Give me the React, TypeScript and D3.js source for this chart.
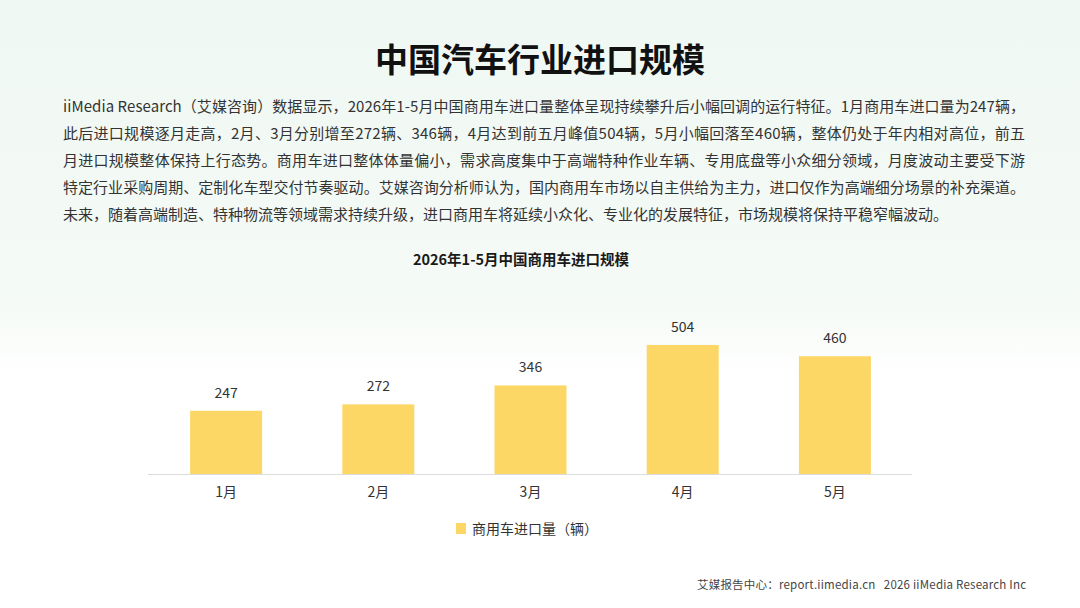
import * as d3 from "d3";
import { useEffect, useRef } from "react";

const months = ["1月", "2月", "3月", "4月", "5月"];
const imports = [247, 272, 346, 504, 460];

const title = "中国汽车行业进口规模";
const paragraph = [
    "iiMedia Research（艾媒咨询）数据显示，2026年1-5月中国商用车进口量整体呈现持续攀升后小幅回调的运行特征。1月商用车进口量为247辆，",
    "此后进口规模逐月走高，2月、3月分别增至272辆、346辆，4月达到前五月峰值504辆，5月小幅回落至460辆，整体仍处于年内相对高位，前五",
    "月进口规模整体保持上行态势。商用车进口整体体量偏小，需求高度集中于高端特种作业车辆、专用底盘等小众细分领域，月度波动主要受下游",
    "特定行业采购周期、定制化车型交付节奏驱动。艾媒咨询分析师认为，国内商用车市场以自主供给为主力，进口仅作为高端细分场景的补充渠道。",
    "未来，随着高端制造、特种物流等领域需求持续升级，进口商用车将延续小众化、专业化的发展特征，市场规模将保持平稳窄幅波动。",
];
const chartTitle = "2026年1-5月中国商用车进口规模";
const legendLabel = "商用车进口量（辆）";
const footer = "艾媒报告中心：report.iimedia.cn   2026 iiMedia Research Inc";

const FONT = "'Noto Sans CJK SC', 'Noto Sans', sans-serif";
const BAR = "#fcd765";

export default function App() {
    const ref = useRef<SVGSVGElement | null>(null);

    useEffect(() => {
        if (!ref.current) return;
        const svg = d3.select(ref.current);
        svg.selectAll("*").remove();

        const width = 1080;
        const height = 608;
        svg.attr("width", width).attr("height", height);

        // background: faint mint wash fading to white
        const defs = svg.append("defs");
        const grad = defs
            .append("linearGradient")
            .attr("id", "bg")
            .attr("x1", 0)
            .attr("y1", 0)
            .attr("x2", 0)
            .attr("y2", 1);
        grad.append("stop").attr("offset", "0%").attr("stop-color", "#eff8f3");
        grad.append("stop").attr("offset", "50%").attr("stop-color", "#f5faf6");
        grad.append("stop").attr("offset", "62%").attr("stop-color", "#ffffff");
        grad.append("stop").attr("offset", "100%").attr("stop-color", "#ffffff");
        svg.append("rect")
            .attr("width", width)
            .attr("height", height)
            .attr("fill", "url(#bg)");

        svg.append("text")
            .attr("x", width / 2)
            .attr("y", 72)
            .attr("text-anchor", "middle")
            .attr("font-family", FONT)
            .attr("font-size", 33)
            .attr("font-weight", 700)
            .attr("fill", "#111")
            .text(title);

        svg.append("g")
            .selectAll("text")
            .data(paragraph)
            .join("text")
            .attr("x", 63)
            .attr("y", (_, i) => 112 + i * 27)
            .attr("font-family", FONT)
            .attr("font-size", 15)
            .attr("fill", "#333")
            .attr("textLength", (_, i) => (i < 4 ? 962 : null))
            .attr("lengthAdjust", "spacing")
            .text((d) => d);

        svg.append("text")
            .attr("x", 521)
            .attr("y", 265)
            .attr("text-anchor", "middle")
            .attr("font-family", FONT)
            .attr("font-size", 14.5)
            .attr("font-weight", 700)
            .attr("fill", "#1a1a1a")
            .text(chartTitle);

        const x = d3
            .scaleBand<string>()
            .domain(months)
            .range([150, 911])
            .paddingInner(0.527)
            .paddingOuter(0.2635);
        const y = d3.scaleLinear().domain([0, 600]).range([474, 320.4]);

        const g = svg.append("g");
        g.selectAll("rect.bar")
            .data(imports)
            .join("rect")
            .attr("class", "bar")
            .attr("x", (_, i) => x(months[i])!)
            .attr("y", (d) => y(d))
            .attr("width", x.bandwidth())
            .attr("height", (d) => y(0) - y(d))
            .attr("fill", BAR);

        g.selectAll("text.val")
            .data(imports)
            .join("text")
            .attr("class", "val")
            .attr("x", (_, i) => x(months[i])! + x.bandwidth() / 2)
            .attr("y", (d) => y(d) - 13)
            .attr("text-anchor", "middle")
            .attr("font-family", FONT)
            .attr("font-size", 14)
            .attr("fill", "#333")
            .text((d) => d);

        const axis = g
            .append("g")
            .attr("transform", `translate(0,${y(0)})`)
            .call(d3.axisBottom(x).tickSize(0).tickPadding(13));
        axis.select(".domain").attr("stroke", "#dcdcdc").attr("d", "M148,0.5H912");
        axis.selectAll("text")
            .attr("font-family", FONT)
            .attr("font-size", 14)
            .attr("fill", "#333");

        // legend
        const legend = svg.append("g").attr("transform", "translate(456,523)");
        legend.append("rect").attr("width", 10).attr("height", 11).attr("fill", BAR);
        legend.append("text")
            .attr("x", 16)
            .attr("y", 11)
            .attr("font-family", FONT)
            .attr("font-size", 14)
            .attr("fill", "#333")
            .text(legendLabel);

        svg.append("text")
            .attr("x", 697)
            .attr("y", 589)
            .attr("font-family", FONT)
            .attr("font-size", 11.5)
            .attr("fill", "#444")
            .attr("textLength", 329)
            .attr("lengthAdjust", "spacing")
            .style("white-space", "pre")
            .text(footer);
    }, []);

    return (
        <svg
            ref={ref}
            style={{ position: "absolute", left: 0, top: 0, display: "block" }}
        ></svg>
    );
}
